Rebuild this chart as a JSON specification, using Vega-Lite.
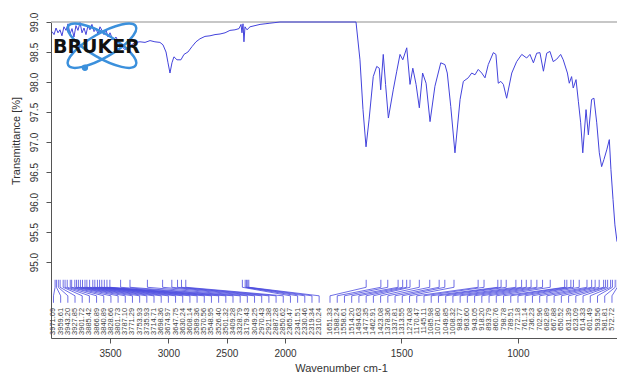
{
  "$schema": "https://vega.github.io/schema/vega-lite/v6.json",
  "width": 566,
  "height": 316,
  "autosize": {"type": "none"},
  "padding": {"left": 51, "top": 22, "right": 0, "bottom": 35},
  "background": "white",
  "config": {
    "view": {"stroke": null},
    "font": "Liberation Sans",
    "axis": {"labelOverlap": false, "labelFlush": false, "grid": false, "tickSize": 5, "labelFontSize": 10, "labelColor": "#333", "domainColor": "#555", "tickColor": "#555", "titleFontSize": 11, "titleFontWeight": "normal", "titleColor": "#333"}
  },
  "datasets": {
    "spec": [
      {"wn":3997,"t":98.84},{"wn":3980,"t":98.79},{"wn":3963,"t":98.9},{"wn":3946,"t":98.82},{"wn":3929,"t":98.87},{"wn":3912,"t":98.77},{"wn":3895,"t":98.92},{"wn":3877,"t":98.86},{"wn":3860,"t":98.97},{"wn":3843,"t":98.8},{"wn":3826,"t":98.89},{"wn":3809,"t":98.75},{"wn":3792,"t":98.94},{"wn":3775,"t":98.86},{"wn":3757,"t":98.99},{"wn":3740,"t":98.82},{"wn":3723,"t":98.9},{"wn":3706,"t":98.79},{"wn":3689,"t":98.94},{"wn":3672,"t":98.87},{"wn":3655,"t":98.96},{"wn":3637,"t":98.84},{"wn":3620,"t":98.89},{"wn":3603,"t":98.8},{"wn":3586,"t":98.92},{"wn":3569,"t":98.86},{"wn":3552,"t":98.79},{"wn":3535,"t":98.87},{"wn":3517,"t":98.75},{"wn":3500,"t":98.82},{"wn":3475,"t":98.7},{"wn":3449,"t":98.75},{"wn":3415,"t":98.62},{"wn":3372,"t":98.54},{"wn":3329,"t":98.6},{"wn":3286,"t":98.66},{"wn":3243,"t":98.67},{"wn":3200,"t":98.66},{"wn":3157,"t":98.69},{"wn":3115,"t":98.67},{"wn":3072,"t":98.66},{"wn":3046,"t":98.62},{"wn":3020,"t":98.5},{"wn":3003,"t":98.32},{"wn":2986,"t":98.15},{"wn":2969,"t":98.32},{"wn":2952,"t":98.42},{"wn":2926,"t":98.37},{"wn":2892,"t":98.37},{"wn":2866,"t":98.46},{"wn":2832,"t":98.5},{"wn":2797,"t":98.59},{"wn":2763,"t":98.67},{"wn":2729,"t":98.72},{"wn":2686,"t":98.76},{"wn":2643,"t":98.77},{"wn":2600,"t":98.79},{"wn":2557,"t":98.8},{"wn":2514,"t":98.82},{"wn":2472,"t":98.86},{"wn":2429,"t":98.87},{"wn":2394,"t":98.89},{"wn":2377,"t":98.96},{"wn":2369,"t":98.82},{"wn":2360,"t":98.97},{"wn":2352,"t":98.67},{"wn":2343,"t":98.92},{"wn":2326,"t":98.87},{"wn":2300,"t":98.92},{"wn":2257,"t":98.94},{"wn":2214,"t":98.96},{"wn":2171,"t":98.97},{"wn":2129,"t":98.98},{"wn":2086,"t":98.99},{"wn":2043,"t":99.0},{"wn":2000,"t":99.0},{"wn":1695,"t":99.0},{"wn":1678,"t":98.37},{"wn":1665,"t":97.54},{"wn":1652,"t":96.92},{"wn":1639,"t":97.37},{"wn":1621,"t":98.09},{"wn":1606,"t":98.26},{"wn":1595,"t":98.23},{"wn":1589,"t":97.87},{"wn":1578,"t":98.46},{"wn":1568,"t":97.96},{"wn":1556,"t":97.4},{"wn":1535,"t":97.87},{"wn":1520,"t":98.18},{"wn":1506,"t":98.46},{"wn":1494,"t":98.37},{"wn":1477,"t":98.57},{"wn":1463,"t":97.96},{"wn":1451,"t":98.23},{"wn":1437,"t":97.96},{"wn":1423,"t":97.57},{"wn":1409,"t":98.15},{"wn":1394,"t":97.98},{"wn":1377,"t":97.34},{"wn":1356,"t":97.93},{"wn":1331,"t":98.32},{"wn":1313,"t":98.29},{"wn":1303,"t":98.15},{"wn":1288,"t":97.59},{"wn":1270,"t":96.82},{"wn":1248,"t":97.71},{"wn":1234,"t":98.01},{"wn":1213,"t":98.07},{"wn":1198,"t":98.15},{"wn":1184,"t":98.12},{"wn":1170,"t":98.21},{"wn":1155,"t":98.15},{"wn":1141,"t":98.07},{"wn":1127,"t":98.29},{"wn":1105,"t":98.49},{"wn":1094,"t":98.46},{"wn":1084,"t":97.98},{"wn":1073,"t":98.01},{"wn":1062,"t":97.96},{"wn":1048,"t":97.73},{"wn":1026,"t":98.15},{"wn":1005,"t":98.34},{"wn":983,"t":98.46},{"wn":962,"t":98.4},{"wn":948,"t":98.46},{"wn":933,"t":98.32},{"wn":919,"t":98.48},{"wn":905,"t":98.49},{"wn":890,"t":98.18},{"wn":876,"t":98.48},{"wn":862,"t":98.51},{"wn":848,"t":98.34},{"wn":833,"t":98.38},{"wn":816,"t":98.46},{"wn":805,"t":98.37},{"wn":787,"t":98.15},{"wn":779,"t":97.98},{"wn":769,"t":98.09},{"wn":762,"t":97.9},{"wn":750,"t":98.04},{"wn":740,"t":97.68},{"wn":730,"t":97.32},{"wn":721,"t":96.82},{"wn":707,"t":97.54},{"wn":697,"t":97.12},{"wn":683,"t":97.71},{"wn":673,"t":97.73},{"wn":661,"t":97.32},{"wn":650,"t":96.82},{"wn":640,"t":96.59},{"wn":630,"t":96.71},{"wn":618,"t":96.87},{"wn":607,"t":97.04},{"wn":600,"t":96.54},{"wn":591,"t":96.04},{"wn":583,"t":95.62},{"wn":574,"t":95.34}
    ],
    "peaks": [
      {"peak":3971.09,"at":3984.6},{"peak":3959.61,"at":3923.1},{"peak":3943.20,"at":3861.5},{"peak":3927.85,"at":3800.0},{"peak":3901.72,"at":3738.4},{"peak":3885.42,"at":3676.9},{"peak":3866.89,"at":3615.3},{"peak":3840.89,"at":3553.8},{"peak":3828.66,"at":3492.2},{"peak":3801.73,"at":3430.7},{"peak":3787.10,"at":3369.1},{"peak":3771.29,"at":3307.6},{"peak":3753.93,"at":3246.0},{"peak":3735.93,"at":3184.5},{"peak":3714.71,"at":3122.9},{"peak":3698.36,"at":3061.3},{"peak":3674.97,"at":2999.8},{"peak":3647.75,"at":2938.2},{"peak":3630.24,"at":2876.7},{"peak":3608.14,"at":2815.1},{"peak":3589.36,"at":2753.6},{"peak":3570.56,"at":2692.0},{"peak":3548.95,"at":2630.5},{"peak":3526.40,"at":2568.9},{"peak":3501.32,"at":2507.3},{"peak":3409.28,"at":2445.8},{"peak":3328.79,"at":2384.2},{"peak":3179.43,"at":2322.7},{"peak":3049.25,"at":2261.1},{"peak":2970.43,"at":2199.6},{"peak":2921.38,"at":2138.0},{"peak":2887.28,"at":2076.5},{"peak":2850.62,"at":2014.9},{"peak":2365.47,"at":1976.6},{"peak":2341.51,"at":1945.8},{"peak":2330.46,"at":1915.0},{"peak":2319.34,"at":1884.1},{"peak":2310.24,"at":1853.3},
      {"peak":1651.33,"at":1806.7},{"peak":1588.24,"at":1775.6},{"peak":1558.61,"at":1744.6},{"peak":1514.20,"at":1713.5},{"peak":1494.63,"at":1682.5},{"peak":1477.35,"at":1651.4},{"peak":1462.91,"at":1620.4},{"peak":1423.08,"at":1589.3},{"peak":1378.36,"at":1558.3},{"peak":1337.81,"at":1527.2},{"peak":1313.55,"at":1496.2},{"peak":1274.08,"at":1465.1},{"peak":1170.47,"at":1434.1},{"peak":1145.11,"at":1403.0},{"peak":1085.98,"at":1372.0},{"peak":1071.80,"at":1340.9},{"peak":1049.85,"at":1309.8},{"peak":1008.32,"at":1278.8},{"peak":983.77,"at":1247.7},{"peak":963.60,"at":1216.7},{"peak":943.05,"at":1185.6},{"peak":918.20,"at":1154.6},{"peak":893.79,"at":1123.5},{"peak":860.76,"at":1092.5},{"peak":798.78,"at":1061.4},{"peak":789.51,"at":1030.3},{"peak":772.18,"at":999.3},{"peak":761.14,"at":968.2},{"peak":736.23,"at":937.2},{"peak":702.96,"at":906.1},{"peak":682.89,"at":875.1},{"peak":667.88,"at":844.0},{"peak":650.52,"at":813.0},{"peak":631.39,"at":781.9},{"peak":623.09,"at":750.9},{"peak":614.33,"at":719.8},{"peak":601.49,"at":688.8},{"peak":593.56,"at":657.7},{"peak":581.81,"at":626.7},{"peak":572.72,"at":595.6}
    ],
    "one": [{}]
  },
  "layer": [
    {
      "data": {"name": "one"},
      "mark": {"type": "rule", "color": "#b4b4b4", "strokeWidth": 1.5},
      "encoding": {"y": {"datum": 99, "type": "quantitative", "axis": {"values": [95, 95.5, 96, 96.5, 97, 97.5, 98, 98.5, 99], "format": ".1f", "title": "Transmittance [%]", "labelAngle": 270, "labelAlign": "center", "labelBaseline": "bottom", "labelPadding": 7, "titleAngle": 270, "titleX": -35, "titleY": 118.5, "titleAlign": "center", "titleBaseline": "middle", "labelOverlap": false, "labelSeparation": 0}}}
    },
    {
      "data": {"name": "spec"},
      "mark": {"type": "line", "color": "#4343dc", "strokeWidth": 1},
      "encoding": {
        "x": {
          "field": "wn", "type": "quantitative", "title": "Wavenumber cm-1",
          "scale": {"domain": [4006, 2000, 574], "range": [0, 234, 566], "nice": false, "zero": false},
          "axis": {"values": [3500, 3000, 2500, 2000, 1500, 1000], "format": "d", "title": "Wavenumber cm-1", "labelPadding": 5, "titleX": 290, "titleY": 30, "titleAlign": "center", "titleBaseline": "middle", "labelOverlap": false}
        },
        "y": {
          "field": "t", "type": "quantitative",
          "scale": {"domain": [93.735, 99], "nice": false, "zero": false},
          "axis": {"values": [95, 95.5, 96, 96.5, 97, 97.5, 98, 98.5, 99], "format": ".1f", "title": "Transmittance [%]", "labelAngle": 270, "labelAlign": "center", "labelBaseline": "bottom", "labelPadding": 7, "titleAngle": 270, "titleX": -35, "titleY": 118.5, "titleAlign": "center", "titleBaseline": "middle", "labelOverlap": false, "labelSeparation": 0}
        }
      }
    },
    {
      "data": {"name": "peaks"},
      "mark": {"type": "rule", "color": "#4a4ade", "strokeWidth": 0.8},
      "encoding": {
        "x": {"field": "peak", "type": "quantitative", "title": "Wavenumber cm-1"},
        "y": {"datum": 94.705, "type": "quantitative", "axis": {"values": [95, 95.5, 96, 96.5, 97, 97.5, 98, 98.5, 99], "format": ".1f", "title": "Transmittance [%]", "labelAngle": 270, "labelAlign": "center", "labelBaseline": "bottom", "labelPadding": 7, "titleAngle": 270, "titleX": -35, "titleY": 118.5, "titleAlign": "center", "titleBaseline": "middle", "labelOverlap": false, "labelSeparation": 0}},
        "y2": {"datum": 94.58}
      }
    },
    {
      "data": {"name": "peaks"},
      "mark": {"type": "rule", "color": "#4a4ade", "strokeWidth": 0.8},
      "encoding": {
        "x": {"field": "peak", "type": "quantitative", "title": "Wavenumber cm-1"},
        "x2": {"field": "at"},
        "y": {"datum": 94.58, "type": "quantitative", "axis": {"values": [95, 95.5, 96, 96.5, 97, 97.5, 98, 98.5, 99], "format": ".1f", "title": "Transmittance [%]", "labelAngle": 270, "labelAlign": "center", "labelBaseline": "bottom", "labelPadding": 7, "titleAngle": 270, "titleX": -35, "titleY": 118.5, "titleAlign": "center", "titleBaseline": "middle", "labelOverlap": false, "labelSeparation": 0}},
        "y2": {"datum": 94.438}
      }
    },
    {
      "data": {"name": "peaks"},
      "mark": {"type": "rule", "color": "#4a4ade", "strokeWidth": 0.8},
      "encoding": {
        "x": {"field": "at", "type": "quantitative", "title": "Wavenumber cm-1"},
        "y": {"datum": 94.438, "type": "quantitative", "axis": {"values": [95, 95.5, 96, 96.5, 97, 97.5, 98, 98.5, 99], "format": ".1f", "title": "Transmittance [%]", "labelAngle": 270, "labelAlign": "center", "labelBaseline": "bottom", "labelPadding": 7, "titleAngle": 270, "titleX": -35, "titleY": 118.5, "titleAlign": "center", "titleBaseline": "middle", "labelOverlap": false, "labelSeparation": 0}},
        "y2": {"datum": 94.322}
      }
    },
    {
      "data": {"name": "peaks"},
      "mark": {"type": "text", "angle": 270, "align": "right", "baseline": "middle", "fontSize": 7.5, "color": "#444"},
      "encoding": {
        "x": {"field": "at", "type": "quantitative", "title": "Wavenumber cm-1"},
        "y": {"datum": 94.238, "type": "quantitative", "axis": {"values": [95, 95.5, 96, 96.5, 97, 97.5, 98, 98.5, 99], "format": ".1f", "title": "Transmittance [%]", "labelAngle": 270, "labelAlign": "center", "labelBaseline": "bottom", "labelPadding": 7, "titleAngle": 270, "titleX": -35, "titleY": 118.5, "titleAlign": "center", "titleBaseline": "middle", "labelOverlap": false, "labelSeparation": 0}},
        "text": {"field": "peak", "type": "quantitative", "format": ".2f"}
      }
    },
    {
      "data": {"name": "one"},
      "mark": {"type": "point", "shape": "M -1 0 A 1 0.31 0 1 0 1 0 A 1 0.31 0 1 0 -1 0 Z", "filled": false, "stroke": "#3b90dc", "strokeWidth": 2.5, "size": 6084, "angle": 330, "opacity": 1},
      "encoding": {
        "x": {"datum": 3569, "type": "quantitative", "title": "Wavenumber cm-1"},
        "y": {"datum": 98.605, "type": "quantitative", "axis": {"values": [95, 95.5, 96, 96.5, 97, 97.5, 98, 98.5, 99], "format": ".1f", "title": "Transmittance [%]", "labelAngle": 270, "labelAlign": "center", "labelBaseline": "bottom", "labelPadding": 7, "titleAngle": 270, "titleX": -35, "titleY": 118.5, "titleAlign": "center", "titleBaseline": "middle", "labelOverlap": false, "labelSeparation": 0}}
      }
    },
    {
      "data": {"name": "one"},
      "mark": {"type": "point", "shape": "M -1 0 A 1 0.31 0 1 0 1 0 A 1 0.31 0 1 0 -1 0 Z", "filled": false, "stroke": "#3b90dc", "strokeWidth": 2.5, "size": 6084, "angle": 30, "opacity": 1},
      "encoding": {
        "x": {"datum": 3569, "type": "quantitative", "title": "Wavenumber cm-1"},
        "y": {"datum": 98.605, "type": "quantitative", "axis": {"values": [95, 95.5, 96, 96.5, 97, 97.5, 98, 98.5, 99], "format": ".1f", "title": "Transmittance [%]", "labelAngle": 270, "labelAlign": "center", "labelBaseline": "bottom", "labelPadding": 7, "titleAngle": 270, "titleX": -35, "titleY": 118.5, "titleAlign": "center", "titleBaseline": "middle", "labelOverlap": false, "labelSeparation": 0}}
      }
    },
    {
      "data": {"name": "one"},
      "mark": {"type": "point", "shape": "circle", "filled": true, "color": "#3b90dc", "size": 40, "opacity": 1},
      "encoding": {
        "x": {"datum": 3715, "type": "quantitative", "title": "Wavenumber cm-1"},
        "y": {"datum": 98.238, "type": "quantitative", "axis": {"values": [95, 95.5, 96, 96.5, 97, 97.5, 98, 98.5, 99], "format": ".1f", "title": "Transmittance [%]", "labelAngle": 270, "labelAlign": "center", "labelBaseline": "bottom", "labelPadding": 7, "titleAngle": 270, "titleX": -35, "titleY": 118.5, "titleAlign": "center", "titleBaseline": "middle", "labelOverlap": false, "labelSeparation": 0}}
      }
    },
    {
      "data": {"name": "one"},
      "mark": {"type": "text", "text": "BRUKER", "font": "DejaVu Sans", "fontWeight": "bold", "fontSize": 19, "align": "left", "baseline": "middle", "color": "#111"},
      "encoding": {
        "x": {"datum": 3989, "type": "quantitative", "title": "Wavenumber cm-1"},
        "y": {"datum": 98.59, "type": "quantitative", "axis": {"values": [95, 95.5, 96, 96.5, 97, 97.5, 98, 98.5, 99], "format": ".1f", "title": "Transmittance [%]", "labelAngle": 270, "labelAlign": "center", "labelBaseline": "bottom", "labelPadding": 7, "titleAngle": 270, "titleX": -35, "titleY": 118.5, "titleAlign": "center", "titleBaseline": "middle", "labelOverlap": false, "labelSeparation": 0}}
      }
    }
  ]
}
